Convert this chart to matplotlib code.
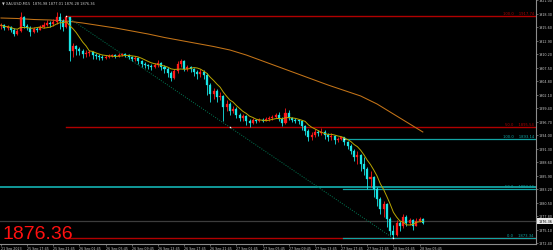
import matplotlib
matplotlib.use("Agg")
import matplotlib.pyplot as plt
import matplotlib.transforms as mtransforms
import numpy as np
import pandas as pd

# ---------------- data ----------------
symbol_title = "\u25bc XAUUSD,M15  1876.98 1877.01 1876.28 1876.36"
last_price = 1876.36
first_open = 1915.80

closes = [1916.00, 1915.40, 1915.60, 1915.00, 1914.20, 1914.80, 1917.60, 1915.80, 1915.40, 1914.60,
          1915.20, 1915.00, 1915.60, 1916.00, 1916.40, 1916.20, 1916.60, 1917.60, 1916.80, 1915.60,
          1917.60, 1910.80, 1911.80, 1911.20, 1910.80, 1910.20, 1910.40, 1910.60, 1910.00, 1909.80,
          1909.60, 1909.40, 1909.60, 1909.80, 1910.00, 1909.80, 1910.00, 1910.20, 1910.00, 1909.60,
          1909.20, 1909.40, 1908.80, 1908.20, 1908.00, 1907.80, 1907.60, 1908.00, 1908.40, 1907.60,
          1907.20, 1906.40, 1905.40, 1906.80, 1908.20, 1908.80, 1907.20, 1907.60, 1907.20, 1906.60,
          1906.20, 1906.60, 1906.00, 1904.00, 1902.20, 1902.80, 1901.60, 1901.80, 1899.60, 1900.20,
          1898.80, 1899.20, 1898.00, 1897.40, 1897.80, 1896.80, 1896.40, 1897.00, 1896.80, 1897.00,
          1896.90, 1897.20, 1897.40, 1897.60, 1898.00, 1897.20, 1896.40, 1898.40, 1897.40, 1897.00,
          1896.90, 1896.80, 1895.80, 1894.80, 1893.60, 1894.00, 1894.60, 1894.40, 1894.60, 1894.00,
          1893.60, 1893.80, 1893.00, 1893.20, 1893.60, 1892.60, 1891.80, 1890.80, 1889.60, 1890.00,
          1888.20, 1887.20, 1885.20, 1885.60, 1883.20, 1881.20, 1879.20, 1880.20, 1877.20, 1874.80,
          1874.00, 1876.40, 1875.80, 1877.60, 1876.40, 1877.00, 1875.80, 1876.80, 1877.20, 1876.36]

highs = [1916.40, 1916.20, 1916.00, 1915.80, 1915.40, 1915.20, 1918.60, 1917.80, 1916.20, 1915.80,
         1915.60, 1915.60, 1916.00, 1916.60, 1917.00, 1916.80, 1917.20, 1918.60, 1918.40, 1917.20,
         1917.74, 1917.60, 1912.40, 1912.00, 1911.60, 1911.20, 1911.00, 1911.00, 1910.80, 1910.40,
         1910.20, 1910.00, 1910.00, 1910.20, 1910.20, 1910.20, 1910.40, 1910.40, 1910.40, 1910.20,
         1909.80, 1909.80, 1909.60, 1909.00, 1908.60, 1908.20, 1908.20, 1908.40, 1909.00, 1908.60,
         1908.00, 1907.60, 1906.80, 1907.20, 1908.80, 1909.20, 1909.00, 1908.00, 1907.80, 1907.40,
         1907.00, 1907.20, 1907.00, 1906.40, 1904.40, 1903.40, 1903.20, 1902.60, 1902.00, 1901.00,
         1900.60, 1899.80, 1899.60, 1898.40, 1898.20, 1898.00, 1897.20, 1897.40, 1897.20, 1897.40,
         1897.40, 1897.60, 1897.80, 1898.00, 1898.40, 1898.60, 1897.60, 1899.40, 1899.00, 1897.60,
         1897.40, 1897.20, 1897.00, 1896.00, 1895.20, 1894.60, 1895.20, 1895.00, 1895.40, 1895.00,
         1894.40, 1894.40, 1894.00, 1893.60, 1893.40, 1893.14, 1892.80, 1892.20, 1891.20, 1890.80,
         1890.20, 1889.60, 1887.60, 1886.80, 1885.80, 1883.60, 1881.60, 1880.80, 1880.40, 1877.60,
         1876.00, 1877.00, 1876.80, 1878.20, 1878.00, 1877.40, 1877.20, 1877.40, 1877.60, 1877.40]

lows = [1915.20, 1915.00, 1915.00, 1914.60, 1913.80, 1914.00, 1914.60, 1915.40, 1915.00, 1913.80,
        1914.40, 1914.60, 1915.00, 1915.40, 1915.80, 1915.60, 1915.80, 1916.20, 1915.20, 1914.80,
        1915.40, 1908.80, 1909.60, 1910.00, 1910.00, 1909.40, 1909.60, 1909.80, 1909.20, 1909.20,
        1909.00, 1909.00, 1909.20, 1909.40, 1909.60, 1909.40, 1909.60, 1909.80, 1909.60, 1909.20,
        1908.80, 1908.80, 1908.20, 1907.60, 1907.40, 1907.20, 1907.00, 1907.40, 1907.60, 1907.00,
        1906.40, 1905.60, 1904.80, 1905.20, 1906.40, 1907.60, 1906.80, 1906.80, 1906.60, 1905.80,
        1905.20, 1905.60, 1905.20, 1902.00, 1900.60, 1901.20, 1900.60, 1901.00, 1896.80, 1898.80,
        1898.00, 1898.40, 1897.40, 1896.80, 1896.80, 1896.00, 1895.60, 1896.20, 1896.40, 1896.60,
        1896.60, 1896.80, 1896.80, 1897.00, 1897.40, 1896.80, 1895.80, 1896.20, 1897.00, 1896.60,
        1896.40, 1896.20, 1895.00, 1894.00, 1892.80, 1893.00, 1893.60, 1893.80, 1894.00, 1893.20,
        1892.80, 1893.00, 1892.20, 1892.60, 1893.00, 1892.00, 1891.20, 1890.20, 1888.80, 1888.20,
        1886.80, 1886.00, 1883.20, 1883.60, 1881.60, 1879.80, 1878.20, 1877.60, 1875.60, 1874.00,
        1873.34, 1873.80, 1874.80, 1875.40, 1875.80, 1876.00, 1875.00, 1876.20, 1876.60, 1876.20]

# slow moving average read at every 5th bar (plus last bar)
slow_ma_bars = [0, 5, 10, 15, 20, 25, 30, 35, 40, 45, 50, 55, 60, 65, 70, 75, 80, 85, 90, 95,
                100, 105, 110, 115, 120, 125, 129]
slow_ma_vals = [1917.40, 1917.30, 1917.10, 1917.00, 1916.80, 1916.40, 1915.90, 1915.40, 1914.80,
                1914.20, 1913.50, 1912.90, 1912.30, 1911.70, 1911.00, 1910.00, 1908.80, 1907.60,
                1906.40, 1905.20, 1904.00, 1902.90, 1901.80, 1900.20, 1898.20, 1896.20, 1894.60]

# Fibonacci objects
red_fib_anchor = (20, 1917.74)   # bar, price
red_fib_low = (120, 1873.34)
red_fib_levels = [0.0, 50.0, 100.0]
cyan_fib_anchor = (105, 1893.14)
cyan_fib_levels = [0.0, 50.0, 100.0]
hline_price = 1883.66

time_tick_bars = list(range(0, 130, 8))
time_tick_labels = ["21 Sep 2023", "25 Sep 17:45", "25 Sep 21:45", "26 Sep 01:45", "26 Sep 05:45",
                    "26 Sep 09:45", "26 Sep 13:45", "26 Sep 17:45", "26 Sep 21:45", "27 Sep 01:45",
                    "27 Sep 05:45", "27 Sep 09:45", "27 Sep 13:45", "27 Sep 17:45", "27 Sep 21:45",
                    "28 Sep 01:45", "28 Sep 05:45"]
price_ticks = [1872.40, 1875.10, 1877.80, 1880.50, 1883.20, 1885.90, 1888.60, 1891.30, 1894.00,
               1896.70, 1899.40, 1902.10, 1904.80, 1907.50, 1910.20, 1912.90, 1915.60, 1918.30, 1921.00]

# ---------------- style ----------------
BULL = "#ff1a1a"
BEAR = "#19e6e6"
AXCOL = "#8c8c8c"
TXT = "#c8c8c8"
FIBRED = "#b00000"
FIBCYAN = "#12a5a5"

W, H = 553, 251
fig = plt.figure(figsize=(W / 100, H / 100), dpi=100, facecolor="black")
ax = fig.add_axes([0, 6 / H, 536 / W, 245 / H])
ax.set_facecolor("black")

px_per_bar = 3.27
ax.set_xlim(-1 / px_per_bar, 535 / px_per_bar)
ax.set_ylim(1872.2, 1921.2)

opens = [first_open] + closes[:-1]
n = len(closes)
idx = np.arange(n)

# horizontal objects
xmax = 535 / px_per_bar
ax.axhline(hline_price, color=FIBCYAN, lw=1.3, zorder=1)
ax.axhline(last_price + 0.45, color="#3c3c3c", lw=0.9, zorder=1)

red_hi = red_fib_anchor[1]
red_lo = red_fib_low[1]
for lv in red_fib_levels:
    p = red_lo + (red_hi - red_lo) * lv / 100
    ax.plot([red_fib_anchor[0], xmax], [p, p], color=FIBRED, lw=1.0, zorder=1)
    if lv > 0:
        ax.text(533 / px_per_bar, p + 0.25, f"{lv:.1f}    {p:.2f}", color=FIBRED, fontsize=2.7,
                ha="right", va="bottom", zorder=5)
ax.plot([red_fib_anchor[0], red_fib_low[0]], [red_hi, red_lo], ls=(0, (1, 1.5)), color="#007a55",
        lw=0.7, zorder=1)

c_hi = cyan_fib_anchor[1]
for lv in cyan_fib_levels:
    p = red_lo + (c_hi - red_lo) * lv / 100
    ax.plot([cyan_fib_anchor[0] - 0.5, xmax], [p, p], color=FIBCYAN, lw=0.9, zorder=1.5)
    ax.text(533 / px_per_bar, p + 0.25, f"{lv:.1f}    {p:.2f}", color=FIBCYAN, fontsize=2.7,
            ha="right", va="bottom", zorder=5)

# candles
for i in range(n):
    o, c = opens[i], closes[i]
    hi = max(highs[i], o, c)
    lo = min(lows[i], o, c)
    col = BULL if c > o else BEAR
    ax.plot([i, i], [lo, hi], color=col, lw=0.6, zorder=3, solid_capstyle="butt")
    bot = min(o, c)
    h = max(abs(c - o), 0.06)
    ax.bar(i, h, bottom=bot, width=0.62, color=col, edgecolor=col, lw=0.2, zorder=3)

# moving averages
fast_ma = pd.Series(closes).rolling(7, min_periods=1).mean()
ax.plot(idx, fast_ma, color="#b9a500", lw=0.7, zorder=4)
ax.plot(slow_ma_bars, slow_ma_vals, color="#c47418", lw=0.75, zorder=2)

# anchor points
ax.scatter([red_fib_anchor[0], (red_fib_anchor[0] + red_fib_low[0]) / 2, red_fib_low[0], cyan_fib_anchor[0]],
           [red_hi, (red_hi + red_lo) / 2, red_lo, c_hi], s=1.2, color="white", zorder=6, lw=0)

# big price text
ax.text(2 / px_per_bar, red_lo + 0.1, f"{last_price:.2f}", color="#ff1010", fontsize=14,
        family="Liberation Sans", ha="left", va="baseline", zorder=7)

# title
ax.text(0.004, 0.995, symbol_title, transform=ax.transAxes, color=TXT, fontsize=2.6,
        ha="left", va="top", zorder=7)

# axes styling
for s in ["top", "left"]:
    ax.spines[s].set_visible(False)
for s in ["right", "bottom"]:
    ax.spines[s].set_color(AXCOL)
    ax.spines[s].set_linewidth(0.8)

ax.yaxis.tick_right()
ax.set_yticks(price_ticks)
ax.set_yticklabels([f"{v:.2f}" for v in price_ticks])
ax.tick_params(axis="y", colors=AXCOL, labelcolor=TXT, labelsize=2.4, length=1.3, width=0.5, pad=0.8)
ax.set_xticks(time_tick_bars)
ax.set_xticklabels(time_tick_labels, ha="left")
ax.tick_params(axis="x", colors=AXCOL, labelcolor=TXT, labelsize=2.3, length=1.3, width=0.5, pad=0.5)

# current price label on the axis
trans = mtransforms.blended_transform_factory(ax.transAxes, ax.transData)
ax.text(1.004, last_price + 0.45, f"{last_price:.2f}", transform=trans, fontsize=2.4, color="black",
        ha="left", va="center", zorder=8, clip_on=False,
        bbox=dict(boxstyle="square,pad=0.2", fc="#e8e8e8", ec="none"))

fig.savefig("out.png", dpi=100, facecolor="black")
